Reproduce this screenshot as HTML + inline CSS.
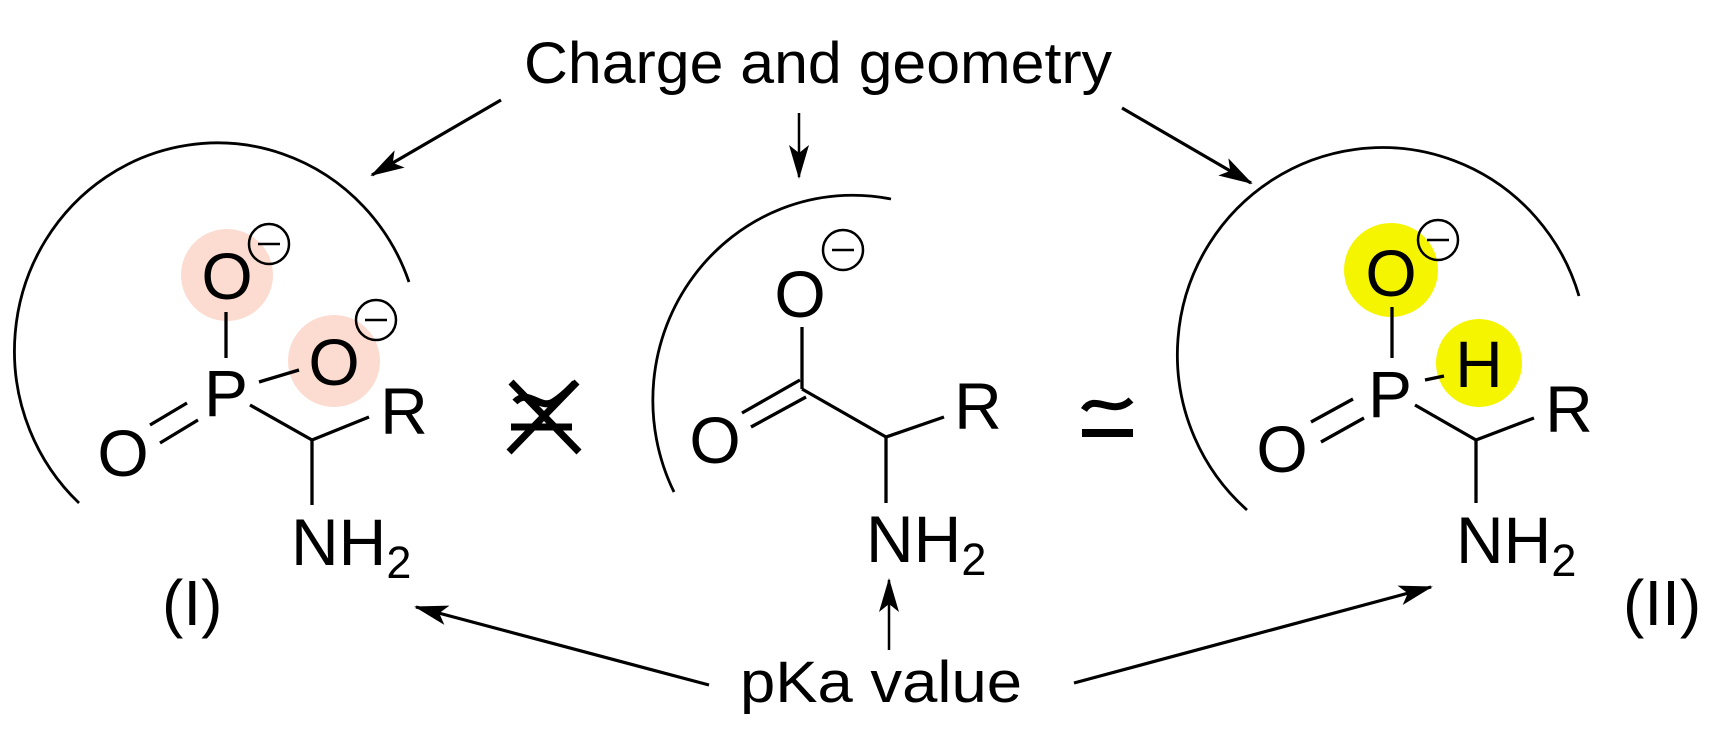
<!DOCTYPE html>
<html><head><meta charset="utf-8"><style>
html,body{margin:0;padding:0;background:#fff;}
svg{display:block;}
text{font-family:"Liberation Sans",Arial,sans-serif;fill:#000;}
</style></head><body>
<svg width="1724" height="748" viewBox="0 0 1724 748" xmlns="http://www.w3.org/2000/svg">
<defs>
<marker id="ah" markerWidth="36" markerHeight="24" refX="32" refY="10" orient="auto" markerUnits="userSpaceOnUse">
<path d="M0,0 L34,10 L0,20 L8,10 Z" fill="#000"/>
</marker>
</defs>
<g stroke="#000" fill="none">
<path d="M79,503 A203 208 0 1 1 409,282" stroke-width="2.8"/>
<path d="M674,492 A200 205 0 0 1 891,199" stroke-width="2.8"/>
<path d="M1247,510 A205 207 0 1 1 1579,296" stroke-width="2.8"/>
<line x1="501" y1="100" x2="372" y2="175" stroke-width="3.2" marker-end="url(#ah)"/>
<line x1="799" y1="113" x2="799" y2="177" stroke-width="2.5" marker-end="url(#ah)"/>
<line x1="1122" y1="108" x2="1251" y2="183" stroke-width="3.2" marker-end="url(#ah)"/>
<line x1="709" y1="685" x2="416" y2="607" stroke-width="3.2" marker-end="url(#ah)"/>
<line x1="889" y1="650" x2="889" y2="580" stroke-width="2.5" marker-end="url(#ah)"/>
<line x1="1074" y1="683" x2="1431" y2="587" stroke-width="3.2" marker-end="url(#ah)"/>
</g>

<circle cx="227" cy="275" r="46" fill="#fcdcd0"/>
<circle cx="334" cy="361" r="46" fill="#fcdcd0"/>
<ellipse cx="1391" cy="270" rx="47" ry="47" fill="#f5f500"/>
<ellipse cx="1479" cy="363" rx="43" ry="44" fill="#f5f500"/>

<g stroke="#000" stroke-width="3.3" fill="none" stroke-linecap="butt">
<line x1="226" y1="312" x2="226" y2="358"/>
<line x1="259" y1="382" x2="299" y2="370"/>
<line x1="150" y1="425" x2="187" y2="403"/>
<line x1="160" y1="443" x2="198" y2="420"/>
<line x1="250" y1="405" x2="312" y2="440"/>
<line x1="312" y1="440" x2="369" y2="417"/>
<line x1="312" y1="440" x2="312" y2="505"/>
<line x1="802" y1="327" x2="802" y2="389"/>
<line x1="800" y1="380" x2="742" y2="413"/>
<line x1="806" y1="397" x2="751" y2="427"/>
<line x1="802" y1="389" x2="886" y2="437"/>
<line x1="886" y1="437" x2="944" y2="417"/>
<line x1="886" y1="437" x2="886" y2="503"/>
<line x1="1392" y1="307" x2="1392" y2="358"/>
<line x1="1425" y1="380" x2="1444" y2="376"/>
<line x1="1311" y1="422" x2="1353" y2="399"/>
<line x1="1321" y1="442" x2="1364" y2="418"/>
<line x1="1415" y1="405" x2="1476" y2="440"/>
<line x1="1476" y1="440" x2="1534" y2="418"/>
<line x1="1476" y1="440" x2="1476" y2="503"/>
<circle cx="269" cy="244" r="20" stroke-width="2.5"/>
<line x1="258" y1="244" x2="280" y2="244" stroke-width="2.5"/>
<circle cx="376" cy="320" r="20" stroke-width="2.5"/>
<line x1="365" y1="320" x2="387" y2="320" stroke-width="2.5"/>
<circle cx="843" cy="250" r="20" stroke-width="2.5"/>
<line x1="832" y1="250" x2="854" y2="250" stroke-width="2.5"/>
<circle cx="1438" cy="240" r="20" stroke-width="2.5"/>
<line x1="1427" y1="240" x2="1449" y2="240" stroke-width="2.5"/>
<line x1="511" y1="382" x2="579" y2="452" stroke-width="7"/>
<line x1="577" y1="382" x2="509" y2="452" stroke-width="7"/>
<path d="M515,402 C528,388 540,410 553,402 C563,396 570,388 575,383" stroke-width="7"/>
<line x1="511" y1="427" x2="572" y2="427" stroke-width="7"/>
<path d="M1084,410 C1095,392 1112,418 1131,400" stroke-width="7"/>
<line x1="1082" y1="433" x2="1133" y2="433" stroke-width="8"/>
</g>

<g font-size="66" text-anchor="middle">
<text x="227" y="299">O</text>
<text x="334" y="385">O</text>
<text x="226" y="416">P</text>
<text x="123" y="476">O</text>
<text x="404" y="434">R</text>
<text x="800" y="317">O</text>
<text x="715" y="463">O</text>
<text x="978" y="429">R</text>
<text x="1391" y="296">O</text>
<text x="1390" y="417">P</text>
<text x="1479" y="387">H</text>
<text x="1282" y="472">O</text>
<text x="1569" y="432">R</text>
</g>
<g font-size="66">
<text x="291" y="565">NH<tspan font-size="45" dy="13">2</tspan></text>
<text x="866" y="562">NH<tspan font-size="45" dy="13">2</tspan></text>
<text x="1456" y="563">NH<tspan font-size="45" dy="13">2</tspan></text>
</g>
<text x="162" y="625" font-size="64">(I)</text>
<text x="1623" y="625" font-size="64">(II)</text>
<text x="524" y="83" font-size="58" textLength="588" lengthAdjust="spacingAndGlyphs">Charge and geometry</text>
<text x="740" y="702" font-size="58" textLength="282" lengthAdjust="spacingAndGlyphs">pKa value</text>
</svg>
</body></html>
